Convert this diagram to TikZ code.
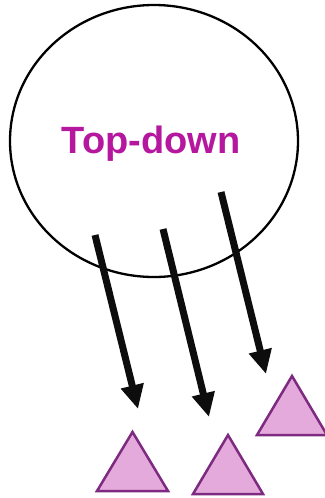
\documentclass[tikz,border=0pt]{standalone}
\usepackage{fontspec}
\setmainfont{Liberation Sans}
\usetikzlibrary{arrows.meta}

\definecolor{labelpink}{HTML}{B5179E}
\definecolor{trifill}{HTML}{E4AADC}
\definecolor{triedge}{HTML}{7D2A80}

\begin{document}
\begin{tikzpicture}[
    x=1pt, y=-1pt,
    whole/.style={draw=black, line width=2.3pt},
    title/.style={font=\fontsize{38}{40}\selectfont\bfseries, text=labelpink},
    push/.style={-{Triangle[length=24pt, width=22pt]}, line width=7pt, black!95},
    part/.style={draw=triedge, fill=trifill, line width=2.5pt, line join=miter},
]
\useasboundingbox (0,0) rectangle (324,498);

% the big ellipse and its label
\draw[whole] (154,141) ellipse [x radius=144, y radius=136];
\node[title] (label) at (151,144) {Top-down};

% start and end points of the three arrows
\coordinate (s1) at (95,235);
\coordinate (e1) at (138,409);
\coordinate (s2) at (163,229);
\coordinate (e2) at (209,417);
\coordinate (s3) at (221,192);
\coordinate (e3) at (266,374);

\draw[push] (s1) -- (e1);
\draw[push] (s2) -- (e2);
\draw[push] (s3) -- (e3);

% the small triangles below
\draw[part] (132.5,432) -- (168,491) -- (97,491) -- cycle;
\draw[part] (228,435) -- (263,494) -- (193,494) -- cycle;
\draw[part] (292,376) -- (327,435) -- (257,435) -- cycle;

\end{tikzpicture}
\end{document}
